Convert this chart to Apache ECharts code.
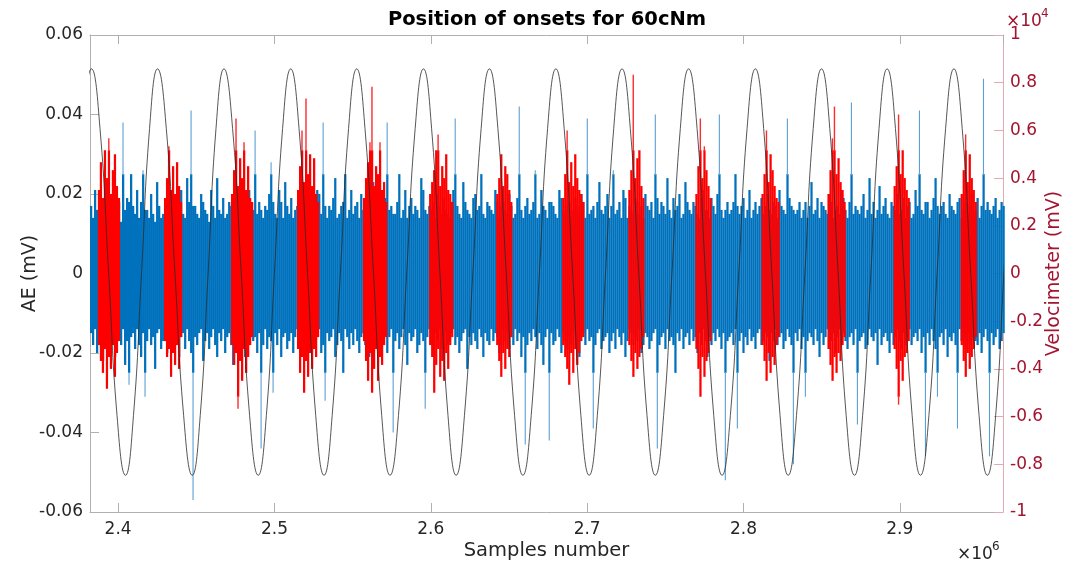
<!DOCTYPE html>
<html><head><meta charset="utf-8">
<script src="https://cdn.jsdelivr.net/npm/echarts@6/dist/echarts.min.js"></script>
<style>html,body{margin:0;padding:0;background:#fff}#c{width:1069px;height:565px}</style>
</head><body><div id="c"></div>
<script>
// ---- data ----
const xLimits = [2382000, 2966000];          // Samples number range
const aeLimits = [-0.06, 0.06];              // AE (mV)
const velLimits = [-10000, 10000];           // Velocimeter (mV)
const sampleStart = 2382000;                 // first AE column shown
const sampleStep = 1280;                     // samples per AE column
// AE signal (blue): highest and lowest reading in each column, mV
const aeHi = [
.017,.014,.021,.016,.015,.019,.014,.015,.023,.017,
.016,.020,.014,.015,.018,.013,.038,.016,.019,.018,
.025,.017,.015,.021,.014,.018,.026,.016,.016,.014,
.020,.015,.013,.023,.017,.014,.015,.018,.022,.016,
.014,.017,.019,.015,.016,.021,.015,.014,.024,.018,
.041,.017,.017,.015,.014,.020,.018,.016,.015,.013,
.021,.017,.014,.024,.016,.015,.019,.014,.015,.018,
.017,.016,.023,.019,.014,.017,.016,.014,.020,.021,
.015,.016,.036,.015,.018,.016,.014,.017,.016,.020,
.028,.018,.015,.014,.021,.018,.014,.023,.017,.015,
.019,.014,.016,.017,.015,.020,.022,.015,.014,.018,
.017,.016,.015,.021,.020,.015,.038,.017,.014,.017,
.016,.019,.024,.014,.015,.017,.018,.025,.014,.016,
.021,.015,.017,.018,.014,.020,.016,.015,.019,.017,
.015,.023,.018,.014,.016,.017,.014,.019,.038,.016,
.017,.015,.015,.018,.025,.014,.016,.021,.014,.017,
.019,.015,.017,.016,.014,.024,.021,.016,.015,.017,
.016,.018,.014,.020,.017,.015,.019,.016,.015,.014,
.018,.021,.039,.017,.015,.014,.023,.018,.016,.015,
.014,.019,.020,.016,.017,.025,.015,.014,.018,.017,
.016,.015,.021,.018,.014,.017,.018,.016,.015,.020,
.017,.014,.015,.019,.042,.016,.014,.017,.019,.015,
.016,.018,.026,.014,.015,.021,.017,.016,.014,.018,
.018,.017,.015,.014,.021,.019,.016,.015,.017,.018,
.014,.016,.019,.017,.015,.020,.018,.014,.039,.015,
.016,.017,.014,.018,.023,.016,.015,.017,.020,.014,
.017,.026,.015,.016,.018,.014,.021,.019,.014,.017,
.016,.015,.019,.018,.015,.017,.014,.020,.017,.016,
.018,.014,.040,.019,.015,.018,.017,.015,.024,.016,
.014,.019,.016,.017,.020,.014,.015,.023,.018,.016,
.015,.018,.017,.015,.014,.019,.021,.016,.016,.014,
.019,.017,.015,.020,.040,.016,.014,.016,.018,.015,
.016,.018,.025,.017,.015,.017,.019,.014,.016,.021,
.014,.016,.018,.015,.017,.019,.015,.017,.020,.016,
.015,.018,.017,.014,.021,.017,.016,.015,.039,.019,
.017,.016,.015,.016,.018,.014,.016,.018,.014,.017,
.023,.015,.016,.019,.014,.018,.017,.016,.015,.020,
.018,.014,.016,.017,.015,.021,.019,.016,.014,.018,
.043,.015,.017,.016,.015,.017,.020,.014,.016,.024,
.015,.018,.014,.016,.022,.015,.017,.019,.015,.014,
.018,.017,.016,.020,.015,.016,.019,.014,.017,.018,
.014,.015,.021,.017,.041,.016,.015,.018,.018,.014,
.016,.019,.024,.017,.015,.017,.018,.015,.014,.020,
.017,.016,.015,.018,.019,.014,.016,.018,.015,.017,
.020,.015,.016,.019,.014,.017,.049,.016,.018,.016,
.015,.017,.019,.014,.016,.018,.017
];
const aeLo = [
-.015,-.018,-.014,-.020,-.016,-.014,-.022,-.017,-.015,-.019,
-.014,-.017,-.021,-.015,-.016,-.018,-.014,-.023,-.017,-.028,
-.016,-.015,-.019,-.014,-.018,-.021,-.015,-.031,-.017,-.014,
-.018,-.016,-.024,-.015,-.014,-.019,-.017,-.015,-.020,-.016,
-.015,-.018,-.014,-.017,-.021,-.016,-.015,-.019,-.014,-.017,
-.020,-.057,-.016,-.018,-.015,-.014,-.022,-.017,-.015,-.019,
-.016,-.014,-.018,-.021,-.015,-.017,-.014,-.020,-.016,-.015,
-.018,-.023,-.015,-.016,-.019,-.014,-.017,-.021,-.015,-.018,
-.014,-.017,-.016,-.020,-.015,-.044,-.018,-.014,-.019,-.016,
-.017,-.030,-.015,-.018,-.014,-.021,-.016,-.015,-.019,-.017,
-.015,-.020,-.016,-.014,-.018,-.017,-.015,-.022,-.016,-.014,
-.019,-.015,-.017,-.016,-.014,-.020,-.018,-.032,-.015,-.017,
-.016,-.014,-.021,-.018,-.015,-.017,-.025,-.014,-.016,-.019,
-.015,-.018,-.014,-.017,-.020,-.016,-.015,-.018,-.014,-.021,
-.017,-.015,-.019,-.016,-.014,-.018,-.017,-.015,-.020,-.016,
-.014,-.040,-.017,-.015,-.019,-.016,-.014,-.018,-.023,-.015,
-.017,-.016,-.014,-.020,-.018,-.015,-.017,-.034,-.016,-.014,
-.018,-.021,-.015,-.017,-.014,-.019,-.016,-.015,-.018,-.017,
-.015,-.014,-.018,-.016,-.020,-.017,-.015,-.014,-.024,-.016,
-.018,-.015,-.017,-.019,-.014,-.016,-.021,-.015,-.017,-.018,
-.014,-.017,-.015,-.016,-.020,-.018,-.014,-.017,-.015,-.019,
-.016,-.018,-.014,-.017,-.015,-.021,-.016,-.043,-.018,-.015,
-.017,-.014,-.016,-.019,-.015,-.018,-.023,-.016,-.014,-.042,
-.015,-.018,-.017,-.014,-.016,-.020,-.015,-.017,-.019,-.016,
-.018,-.015,-.014,-.017,-.021,-.016,-.015,-.018,-.014,-.017,
-.016,-.039,-.018,-.015,-.014,-.019,-.017,-.016,-.015,-.020,
-.017,-.015,-.019,-.014,-.016,-.018,-.015,-.021,-.017,-.014,
-.015,-.018,-.016,-.017,-.014,-.020,-.018,-.015,-.016,-.019,
-.017,-.015,-.014,-.044,-.018,-.016,-.015,-.019,-.014,-.017,
-.016,-.018,-.025,-.015,-.017,-.014,-.019,-.016,-.015,-.018,
-.014,-.017,-.016,-.020,-.015,-.018,-.014,-.017,-.021,-.016,
-.018,-.015,-.017,-.014,-.016,-.019,-.015,-.052,-.017,-.016,
-.015,-.018,-.014,-.039,-.017,-.015,-.020,-.016,-.018,-.014,
-.017,-.016,-.019,-.015,-.014,-.018,-.017,-.015,-.016,-.022,
-.015,-.017,-.014,-.018,-.016,-.015,-.019,-.017,-.014,-.016,
-.018,-.048,-.015,-.017,-.014,-.019,-.016,-.031,-.017,-.015,
-.016,-.018,-.014,-.017,-.021,-.015,-.018,-.016,-.014,-.019,
-.017,-.015,-.020,-.016,-.014,-.018,-.015,-.017,-.019,-.016,
-.015,-.018,-.014,-.038,-.017,-.016,-.015,-.019,-.018,-.014,
-.016,-.017,-.015,-.023,-.014,-.018,-.016,-.015,-.017,-.020,
-.015,-.018,-.016,-.014,-.017,-.019,-.015,-.018,-.016,-.014,
-.018,-.016,-.015,-.017,-.014,-.020,-.016,-.046,-.015,-.018,
-.014,-.017,-.019,-.031,-.016,-.015,-.018,-.014,-.021,-.016,
-.017,-.015,-.018,-.039,-.014,-.017,-.016,-.019,-.015,-.018,
-.016,-.014,-.017,-.018,-.015,-.020,-.016,-.014,-.017,-.046,
-.015,-.018,-.016,-.014,-.019,-.017,-.015
];
// onset bursts (red): first sample of each burst, and highest / lowest reading per column, mV
const burstStarts = [2387000,2429300,2472200,2514400,2556600,2598900,2641800,
                     2684000,2726300,2769200,2811500,2853700,2896000,2938900];
const burstHi = [
[.021,.028,.019,.031,.024,.034,.020,.026,.030,.022,.019],
[.019,.024,.032,.021,.027,.020,.028,.022,.018],
[.020,.026,.039,.022,.029,.024,.033,.021,.027,.019,.018],
[.021,.027,.036,.023,.044,.025,.030,.022,.029,.020,.018],
[.019,.024,.028,.033,.047,.022,.027,.025,.033,.021,.023,.018],
[.020,.023,.026,.031,.035,.022,.027,.024,.030,.021,.020,.018],
[.020,.024,.030,.022,.027,.025,.021,.018],
[.019,.025,.036,.023,.028,.022,.030,.024,.021,.020,.018],
[.021,.026,.050,.024,.029,.031,.022,.019],
[.020,.027,.039,.024,.032,.026,.022,.019],
[.020,.025,.036,.023,.030,.026,.022,.019,.018],
[.020,.026,.034,.042,.025,.029,.023,.021,.018],
[.022,.027,.040,.025,.031,.024,.021,.019],
[.020,.026,.035,.023,.030,.024,.021,.018]
];
const burstLo = [
[-.018,-.022,-.025,-.019,-.029,-.021,-.024,-.018,-.026,-.020,-.017],
[-.017,-.021,-.019,-.026,-.020,-.023,-.018,-.024,-.016],
[-.018,-.023,-.020,-.034,-.022,-.027,-.019,-.025,-.021,-.018,-.016],
[-.019,-.025,-.021,-.030,-.022,-.026,-.020,-.024,-.019,-.021,-.016],
[-.017,-.022,-.027,-.020,-.030,-.024,-.019,-.027,-.021,-.023,-.018,-.016],
[-.018,-.021,-.030,-.023,-.019,-.026,-.022,-.027,-.020,-.024,-.018,-.016],
[-.018,-.022,-.026,-.020,-.024,-.019,-.021,-.016],
[-.018,-.021,-.024,-.028,-.020,-.025,-.019,-.023,-.020,-.017,-.016],
[-.018,-.022,-.026,-.020,-.024,-.021,-.019,-.016],
[-.019,-.024,-.031,-.021,-.026,-.022,-.020,-.017],
[-.018,-.022,-.027,-.020,-.025,-.021,-.023,-.018,-.016],
[-.019,-.023,-.027,-.021,-.025,-.020,-.022,-.018,-.016],
[-.019,-.024,-.033,-.022,-.027,-.021,-.020,-.017],
[-.018,-.022,-.026,-.020,-.024,-.021,-.019,-.016]
];
// velocimeter (black): sample positions and values (mV)
const velX = [
2361800,2367100,2372400,2377700,2383000,2388400,2393900,2399300,2404700,2409800,2415000,2420100,
2425200,2430800,2436300,2441900,2447400,2452500,2457600,2462600,2467700,2473200,2478700,2484100,
2489600,2494800,2500000,2505200,2510400,2515700,2521100,2526400,2531700,2536900,2542200,2547400,
2552600,2557900,2563300,2568600,2573900,2579300,2584600,2590000,2595300,2600500,2605800,2611000,
2616200,2621500,2626900,2632200,2637500,2642900,2648200,2653600,2658900,2664200,2669500,2674700,
2680000,2685300,2690700,2696000,2701300,2706500,2711800,2717000,2722300,2727600,2733000,2738300,
2743600,2748900,2754300,2759600,2764900,2770300,2775600,2781000,2786300,2791600,2797000,2802300,
2807600,2812900,2818100,2823400,2828600,2833900,2839300,2844600,2849900,2855200,2860500,2865700,
2871000,2876200,2881500,2886700,2891900,2897200,2902600,2907900,2913200,2918600,2923900,2929300,
2934600,2939900,2945300,2950700,2956000,2961300,2966600,2971900,2977200
];
const velY = [
-8460,-5960,60,6080,8580,6080,60,-5960,-8460,-5960,60,6080,
8580,6080,60,-5960,-8460,-5960,60,6080,8580,6080,60,-5960,
-8460,-5960,60,6080,8580,6080,60,-5960,-8460,-5960,60,6080,
8580,6080,60,-5960,-8460,-5960,60,6080,8580,6080,60,-5960,
-8460,-5960,60,6080,8580,6080,60,-5960,-8460,-5960,60,6080,
8580,6080,60,-5960,-8460,-5960,60,6080,8580,6080,60,-5960,
-8460,-5960,60,6080,8580,6080,60,-5960,-8460,-5960,60,6080,
8580,6080,60,-5960,-8460,-5960,60,6080,8580,6080,60,-5960,
-8460,-5960,60,6080,8580,6080,60,-5960,-8460,-5960,60,6080,
8580,6080,60,-5960,-8460,-5960,60,6080,8580
];
const titleText = 'Position of onsets for 60cNm';
const xName = 'Samples number';
const yLeftName = 'AE (mV)';
const yRightName = 'Velocimeter (mV)';

// ---- chart ----
const FONT = '"DejaVu Sans", "Liberation Sans", sans-serif';
const DARK = '#262626';
const VEL = '#A2142F';
const chart = echarts.init(document.getElementById('c'), null, {renderer: 'canvas'});

// each column: [first sample, highest reading, lowest reading]
const aeCols = aeHi.map((h, i) => [sampleStart + i * sampleStep, h, aeLo[i]]);
let burstCols = [];
burstHi.forEach((his, k) => {
  his.forEach((h, j) => burstCols.push([burstStarts[k] + j * sampleStep, h, burstLo[k][j]]));
});
const velData = velX.map((x, i) => [x, velY[i]]);

// dense part of a column drawn as a filled bar, isolated excursions as thin strokes
function colRenderer(color, thinColor, dense, thinWidth) {
  return function (params, api) {
    const x0 = api.value(0), hi = api.value(1), lo = api.value(2);
    const hiC = Math.min(hi, dense), loC = Math.max(lo, -dense);
    const a = api.coord([x0, hiC]);
    const b = api.coord([x0 + sampleStep, loC]);
    const w = b[0] - a[0];
    const children = [{
      type: 'rect', silent: true,
      shape: {x: a[0], y: a[1], width: w + 0.25, height: b[1] - a[1]},
      style: {fill: color, stroke: null}
    }];
    const xm = a[0] + w / 2;
    if (hi > dense) {
      const t = api.coord([x0, hi]);
      children.push({type: 'line', silent: true,
        shape: {x1: xm, y1: t[1], x2: xm, y2: a[1] + 1},
        style: {stroke: thinColor, lineWidth: thinWidth}});
    }
    if (lo < -dense) {
      const t = api.coord([x0, lo]);
      children.push({type: 'line', silent: true,
        shape: {x1: xm, y1: b[1] - 1, x2: xm, y2: t[1]},
        style: {stroke: thinColor, lineWidth: thinWidth}});
    }
    return {type: 'group', children: children};
  };
}

const xCommon = {
  type: 'value', min: xLimits[0], max: xLimits[1], splitNumber: 6,
  splitLine: {show: false},
  axisLine: {show: true, onZero: false, lineStyle: {color: '#b0b0b0', width: 1}},
  axisTick: {show: true, inside: true, length: 9, lineStyle: {color: '#b0b0b0'}}
};

chart.setOption({
  animation: false,
  backgroundColor: '#ffffff',
  textStyle: {fontFamily: FONT},
  grid: {left: 90, right: 66, top: 35, bottom: 53, containLabel: false, outerBoundsMode: 'none'},
  xAxis: [
    Object.assign({}, xCommon, {
      position: 'bottom',
      name: xName, nameLocation: 'middle', nameGap: 29, nameMoveOverlap: false,
      nameTextStyle: {fontFamily: FONT, fontSize: 19.5, color: DARK},
      axisLabel: {show: true, margin: 9, fontFamily: FONT, fontSize: 17, color: DARK,
        showMinLabel: false, showMaxLabel: false,
        formatter: v => (v / 1e6).toFixed(1)}
    }),
    Object.assign({}, xCommon, {position: 'top', axisLabel: {show: false}})
  ],
  yAxis: [
    {
      type: 'value', position: 'left', min: aeLimits[0], max: aeLimits[1], interval: 0.02,
      name: yLeftName, nameLocation: 'middle', nameGap: 50, nameRotate: 90, nameMoveOverlap: false,
      nameTextStyle: {fontFamily: FONT, fontSize: 19, color: DARK},
      splitLine: {show: false},
      axisLine: {show: true, onZero: false, lineStyle: {color: '#b0b0b0', width: 1}},
      axisTick: {show: true, inside: true, length: 9, lineStyle: {color: '#b0b0b0'}},
      axisLabel: {margin: 7, fontFamily: FONT, fontSize: 17, color: DARK,
        formatter: v => Math.abs(v) < 1e-9 ? '0' : v.toFixed(2)}
    },
    {
      type: 'value', position: 'right', min: velLimits[0], max: velLimits[1], interval: 2000,
      name: yRightName, nameLocation: 'middle', nameGap: 42, nameRotate: 90, nameMoveOverlap: false,
      nameTextStyle: {fontFamily: FONT, fontSize: 19, color: VEL},
      splitLine: {show: false},
      axisLine: {show: true, onZero: false, lineStyle: {color: '#e2aab3', width: 1}},
      axisTick: {show: true, inside: true, length: 9, lineStyle: {color: '#e2aab3'}},
      axisLabel: {margin: 7, fontFamily: FONT, fontSize: 17, color: VEL,
        formatter: v => String(parseFloat((v / 1e4).toFixed(1)))}
    }
  ],
  graphic: [
    {type: 'text', silent: true, style: {text: titleText, x: 547, y: 10, font: 'bold 19.5px ' + FONT, fill: '#000', textAlign: 'center', align: 'center', textVerticalAlign: 'top', verticalAlign: 'top'}},
    {type: 'text', silent: true, style: {text: '×10', x: 1006, y: 13, font: '17px ' + FONT, fill: VEL, textVerticalAlign: 'top', verticalAlign: 'top'}},
    {type: 'text', silent: true, style: {text: '4', x: 1041, y: 8, font: '12px ' + FONT, fill: VEL, textVerticalAlign: 'top', verticalAlign: 'top'}},
    {type: 'text', silent: true, style: {text: '×10', x: 957, y: 546, font: '17px ' + FONT, fill: DARK, textVerticalAlign: 'top', verticalAlign: 'top'}},
    {type: 'text', silent: true, style: {text: '6', x: 992, y: 541, font: '12px ' + FONT, fill: DARK, textVerticalAlign: 'top', verticalAlign: 'top'}}
  ],
  series: [
    {
      type: 'custom', name: 'AE', xAxisIndex: 0, yAxisIndex: 0, z: 2, silent: true,
      data: aeCols, encode: {x: 0, y: [1, 2]},
      renderItem: colRenderer('#0072BD', '#5c9fd3', 0.025, 1.1)
    },
    {
      type: 'custom', name: 'Onsets', xAxisIndex: 0, yAxisIndex: 0, z: 3, silent: true,
      data: burstCols, encode: {x: 0, y: [1, 2]},
      renderItem: colRenderer('#ff0000', '#ff2a2a', 0.031, 1.4)
    },
    {
      type: 'line', name: 'Velocimeter', xAxisIndex: 0, yAxisIndex: 1, z: 4,
      data: velData, smooth: true, showSymbol: false, symbol: 'none', silent: true, clip: true,
      lineStyle: {color: '#2b2b2b', width: 0.8}
    }
  ]
});
</script>
</body></html>
